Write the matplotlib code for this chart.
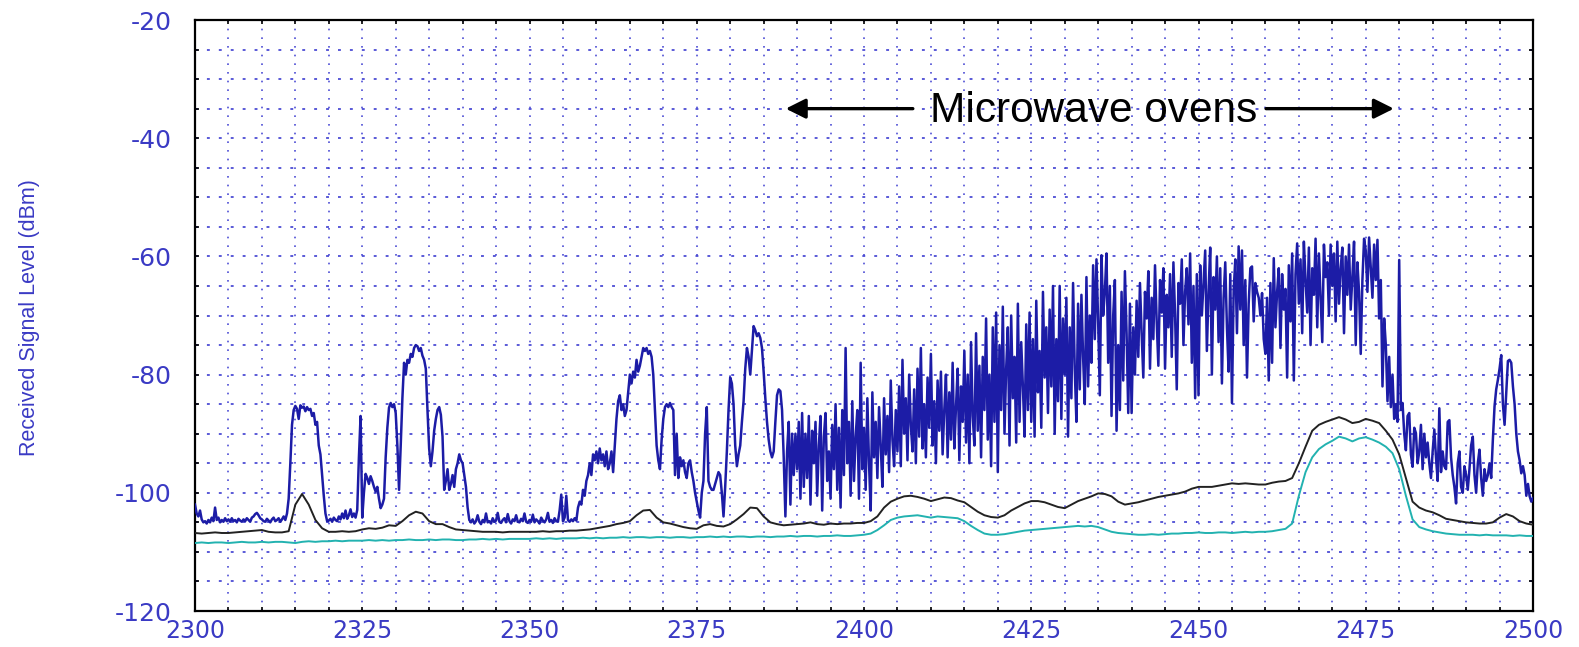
import numpy as np
import matplotlib
matplotlib.use("Agg")
import matplotlib.pyplot as plt
from matplotlib.ticker import MultipleLocator, FixedLocator, FixedFormatter

# ---------------- data ----------------
x_ticks = [2300, 2325, 2350, 2375, 2400, 2425, 2450, 2475, 2500]
x_tick_labels = ["2300", "2325", "2350", "2375", "2400", "2425", "2450", "2475", "2500"]
y_ticks = [-120, -100, -80, -60, -40, -20]
y_tick_labels = ["-120", "-100", "-80", "-60", "-40", "-20"]

ylabel_text = "Received Signal Level (dBm)"
annot_text = "Microwave ovens"

# blue trace: 0.25 MHz steps, 2300 .. 2500 MHz (each row = 5 MHz)
blue_dbm = [
    -102.0, -103.5, -104.0, -103.0, -104.5, -105.0, -104.8, -105.2, -104.6, -105.0, -104.2, -104.8, -102.5, -104.6, -104.2, -105.0, -104.6, -104.9, -104.3, -104.8,
    -104.5, -104.9, -104.3, -104.8, -104.6, -105.0, -104.4, -104.7, -104.9, -104.5, -104.8, -104.3, -104.6, -104.9, -104.2, -104.0, -103.6, -103.4, -103.8, -104.3,
    -104.5, -104.8, -104.9, -104.4, -104.7, -105.0, -104.5, -104.2, -104.8, -104.6, -104.3, -104.9, -104.5, -104.0, -104.6, -103.5, -101.0, -95.0, -88.5, -86.0,
    -85.3, -85.8, -87.5, -85.2, -85.6, -85.4, -86.2, -85.5, -86.0, -85.8, -87.0, -86.5, -88.5, -88.0, -92.0, -93.5, -97.0, -100.5, -103.5, -104.8,
    -104.7, -104.4, -104.9, -104.2, -104.6, -104.8, -104.0, -104.5, -103.5, -104.3, -103.0, -104.4, -103.8, -102.8, -104.1, -103.5, -104.2, -102.9, -94.0, -87.0,
    -104.2, -100.0, -96.8, -97.5, -98.5, -97.2, -98.0, -99.0, -99.8, -99.0, -101.0, -102.6, -102.0, -101.0, -94.0, -89.0, -85.6, -84.8, -85.5, -85.0,
    -86.5, -92.0, -99.5, -92.0, -84.0, -78.0, -80.0, -77.5, -78.0, -76.5, -77.0, -75.5, -75.0, -75.2, -76.0, -75.5, -76.8, -77.5, -79.0, -86.0,
    -92.5, -95.5, -93.0, -89.5, -87.5, -86.0, -85.5, -86.8, -90.5, -99.5, -98.0, -96.0, -99.5, -98.5, -97.0, -99.0, -96.0, -95.0, -93.5, -94.5,
    -95.0, -97.0, -99.0, -102.5, -104.6, -105.0, -104.5, -105.2, -104.8, -103.8, -104.9, -105.3, -104.6, -105.0, -103.5, -105.0, -104.8, -105.2, -104.3, -104.9,
    -104.7, -103.4, -104.9, -105.1, -104.6, -104.3, -105.0, -103.6, -104.8, -105.2, -104.5, -104.8, -103.8, -104.9, -105.0, -104.4, -104.8, -103.5, -104.9, -105.1,
    -104.6, -104.9, -103.7, -105.0, -104.5, -104.8, -105.2, -104.2, -104.7, -105.0, -104.5, -103.4, -104.9, -104.6, -105.1, -104.3, -104.8, -104.9, -103.0, -100.3,
    -104.8, -104.2, -100.5, -104.6, -104.9, -104.5, -104.8, -104.3, -104.7, -102.5, -101.5, -102.0, -99.5, -100.5, -98.0, -97.0, -95.0, -97.0, -93.5, -94.5,
    -93.0, -95.0, -92.5, -94.5, -93.5, -95.5, -93.0, -96.0, -95.0, -93.0, -96.5, -92.0, -87.5, -84.5, -83.5, -86.0, -85.0, -87.0, -86.0, -83.0,
    -80.0, -81.5, -79.5, -80.5, -77.5, -79.5, -78.5, -77.0, -75.5, -76.0, -75.5, -76.5, -76.0, -77.0, -80.0, -86.0, -92.0, -94.5, -96.0, -91.0,
    -87.5, -85.5, -85.0, -85.5, -84.8, -85.5, -86.0, -97.0, -90.0, -97.5, -94.0, -95.5, -94.5, -96.5, -97.5, -95.0, -94.5, -96.5, -98.0, -100.0,
    -101.5, -103.0, -104.2, -100.0, -98.0, -90.0, -85.5, -98.0, -99.0, -99.5, -99.5, -98.5, -97.5, -96.5, -97.0, -100.0, -104.0, -99.0, -93.0, -86.0,
    -80.5, -81.5, -85.0, -92.0, -95.5, -93.5, -92.0, -88.0, -84.5, -79.0, -75.5, -77.0, -80.0, -76.0, -71.8, -72.5, -73.5, -73.0, -73.8, -75.5,
    -79.5, -84.0, -88.0, -91.0, -93.0, -94.0, -93.0, -88.0, -83.5, -82.5, -82.8, -86.0, -94.0, -104.0, -93.0, -88.0, -102.0, -90.0, -97.0, -90.0,
    -96.0, -88.0, -101.0, -86.5, -99.0, -90.0, -97.5, -87.0, -102.0, -89.5, -95.0, -88.0, -100.5, -92.0, -87.0, -103.0, -90.5, -86.5, -98.0, -93.0,
    -101.0, -88.5, -96.0, -85.0, -99.5, -89.0, -102.5, -86.0, -97.0, -75.5, -95.0, -88.0, -100.5, -84.5, -98.0, -90.5, -86.0, -101.0, -78.0, -96.0,
    -89.0, -99.5, -84.0, -95.0, -103.0, -83.0, -94.0, -88.0, -97.5, -85.5, -92.0, -99.0, -84.0, -93.5, -87.0, -96.5, -81.0, -91.0, -95.5, -86.0,
    -93.0, -82.0, -95.5, -77.5, -90.0, -84.0, -94.5, -80.0, -88.5, -93.0, -82.5, -95.0, -79.0, -90.5, -75.5, -92.5, -85.0, -94.0, -80.5, -89.0,
    -76.5, -92.0, -84.5, -95.0, -81.0, -89.5, -79.5, -93.5, -86.0, -80.0, -94.0, -83.0, -91.0, -78.0, -92.5, -85.5, -79.0, -94.5, -82.0, -88.0,
    -76.0, -91.5, -80.0, -95.0, -74.5, -87.0, -92.0, -73.0, -89.5, -78.5, -94.0, -77.0, -86.0, -70.5, -91.0, -80.0, -95.5, -72.0, -88.0, -69.5,
    -96.5, -75.0, -86.0, -68.5, -90.0, -79.0, -72.0, -92.0, -70.0, -84.0, -77.0, -91.5, -68.0, -88.0, -74.5, -82.0, -90.5, -71.5, -86.0, -69.5,
    -88.0, -74.0, -90.5, -67.5, -83.0, -76.0, -89.0, -66.0, -80.5, -72.0, -86.5, -69.0, -82.0, -65.0, -90.0, -74.0, -84.5, -65.0, -87.5, -70.5,
    -80.0, -67.0, -90.5, -72.0, -84.0, -64.5, -79.0, -88.0, -68.0, -82.5, -66.5, -77.0, -85.0, -63.5, -82.0, -70.0, -78.0, -61.5, -74.0, -60.5,
    -71.0, -83.5, -59.8, -70.0, -66.0, -59.5, -78.0, -65.0, -87.0, -70.0, -64.0, -89.5, -75.0, -86.0, -66.0, -81.0, -62.5, -73.0, -86.5, -68.0,
    -86.5, -72.0, -80.0, -67.5, -77.0, -64.5, -73.0, -80.5, -66.0, -70.5, -62.5, -79.0, -67.0, -74.0, -61.5, -71.0, -78.5, -64.0, -69.5, -62.0,
    -79.0, -66.5, -72.0, -63.0, -77.0, -61.0, -70.0, -82.5, -64.5, -68.0, -60.5, -75.0, -66.0, -62.0, -71.5, -59.5, -78.0, -65.0, -84.0, -63.0,
    -83.5, -61.5, -70.0, -64.5, -59.0, -76.0, -66.0, -58.5, -80.0, -63.5, -69.0, -60.0, -74.5, -62.0, -81.5, -67.0, -61.0, -72.0, -79.5, -63.0,
    -84.8, -66.0, -60.5, -73.0, -58.3, -69.0, -59.0, -75.0, -64.0, -80.5, -68.0, -62.0, -61.7, -71.0, -64.5, -66.0, -67.0, -70.0, -66.2, -74.0,
    -76.5, -67.0, -81.0, -64.5, -78.0, -60.3, -72.0, -66.0, -62.0, -75.5, -63.0, -69.0, -65.5, -80.5, -61.5, -71.0, -59.5, -81.0, -63.0, -57.8,
    -68.0, -60.5, -73.0, -57.5, -64.0, -69.5, -58.5, -75.0, -62.0, -66.5, -57.0, -72.0, -59.5, -67.0, -74.5, -58.0, -63.5, -61.0, -70.0, -58.0,
    -65.0, -59.5, -71.0, -57.5, -68.0, -62.0, -58.5, -73.0, -60.0, -66.5, -58.0, -69.0, -63.5, -57.5, -75.0, -61.0, -66.0, -76.5, -64.0, -57.0,
    -59.0, -66.0, -56.8, -62.0, -67.0, -58.0, -64.0, -57.2, -70.5, -64.0, -82.0, -70.5, -75.0, -84.5, -77.0, -85.5, -80.0, -87.5, -85.0, -88.0,
    -60.6, -86.0, -84.8, -90.0, -92.8, -87.0, -86.5, -93.5, -95.6, -89.0, -89.9, -95.0, -93.0, -88.5, -96.0, -90.0, -94.0, -91.5, -95.0, -97.5,
    -93.0, -89.3, -94.0, -98.0, -85.7, -96.5, -93.0, -95.5, -96.0, -88.0, -87.7, -94.0, -97.0, -99.0, -101.8, -95.0, -93.0, -99.0, -100.0, -95.5,
    -97.0, -99.5, -96.0, -92.0, -90.5, -97.0, -100.0, -95.0, -92.7, -97.5, -100.5, -96.0, -98.0, -97.0, -95.0, -97.5, -91.0, -85.4, -82.5, -80.9,
    -79.0, -76.7, -85.0, -88.5, -83.0, -77.7, -77.5, -78.0, -82.0, -85.0, -90.0, -93.0, -94.5, -96.7, -95.5, -97.0, -100.5, -98.5, -100.6, -101.5,
    -100.9,
]

# black trace: 1 MHz steps, 2300 .. 2500 MHz (each row = 10 MHz)
black_dbm = [
    -106.8, -106.9, -106.8, -106.7, -106.8, -106.8, -106.7, -106.6, -106.5, -106.4,
    -106.3, -106.6, -106.7, -106.7, -106.5, -102.0, -100.2, -102.0, -104.6, -106.0,
    -106.6, -106.6, -106.5, -106.6, -106.5, -106.2, -106.0, -106.1, -105.9, -105.5,
    -105.6, -104.8, -103.8, -103.2, -103.5, -104.8, -105.3, -105.3, -105.8, -106.2,
    -106.3, -106.4, -106.5, -106.6, -106.6, -106.6, -106.7, -106.6, -106.6, -106.6,
    -106.6, -106.6, -106.5, -106.6, -106.5, -106.5, -106.4, -106.4, -106.3, -106.2,
    -106.0, -105.8, -105.6, -105.3, -105.1, -104.8, -103.8, -103.0, -102.9, -104.2,
    -105.0, -105.2, -105.5, -105.8, -106.0, -106.1, -105.5, -105.3, -105.6, -105.7,
    -105.3, -104.5, -103.6, -102.5, -102.6, -104.0, -105.0, -105.3, -105.5, -105.4,
    -105.3, -105.2, -105.0, -105.3, -105.4, -105.2, -105.3, -105.2, -105.2, -105.1,
    -105.1, -104.8, -104.0, -102.5, -101.5, -101.0, -100.6, -100.5, -100.7, -101.0,
    -101.4, -101.1, -100.8, -100.9, -101.3, -101.6, -102.4, -103.2, -103.8, -104.1,
    -104.2, -103.8, -103.0, -102.4, -101.8, -101.4, -101.4, -101.6, -102.0, -102.4,
    -102.6, -102.0, -101.4, -101.0, -100.6, -100.1, -100.2, -100.6, -101.5, -102.0,
    -101.8, -101.6, -101.3, -101.0, -100.7, -100.5, -100.3, -100.1, -99.8, -99.3,
    -99.0, -99.0, -99.0, -98.8, -98.6, -98.4, -98.5, -98.4, -98.5, -98.6,
    -98.6, -98.3, -98.1, -98.0, -97.5, -95.0, -92.2, -89.5, -88.5, -88.0,
    -87.6, -87.2, -87.6, -88.2, -88.0, -87.5, -87.8, -88.2, -89.5, -91.0,
    -93.5, -97.5, -101.5, -102.5, -103.0, -103.3, -103.8, -104.4, -104.6, -104.8,
    -105.0, -105.1, -105.2, -105.2, -105.0, -104.2, -103.6, -104.0, -104.8, -105.2,
    -105.4,
]

# cyan trace: 1 MHz steps, 2300 .. 2500 MHz (each row = 10 MHz)
cyan_dbm = [
    -108.5, -108.4, -108.5, -108.4, -108.4, -108.5, -108.4, -108.3, -108.4, -108.4,
    -108.3, -108.4, -108.3, -108.3, -108.4, -108.5, -108.3, -108.2, -108.3, -108.2,
    -108.2, -108.1, -108.2, -108.1, -108.1, -108.1, -108.0, -108.1, -108.0, -108.1,
    -108.0, -108.0, -107.9, -108.0, -108.0, -107.9, -108.0, -107.9, -107.9, -108.0,
    -108.0, -107.9, -107.9, -107.8, -107.9, -107.8, -107.9, -107.8, -107.8, -107.8,
    -107.8, -107.7, -107.8, -107.7, -107.8, -107.7, -107.7, -107.7, -107.6, -107.7,
    -107.6, -107.7, -107.6, -107.6, -107.5, -107.6, -107.5, -107.5, -107.6, -107.5,
    -107.5, -107.6, -107.5, -107.5, -107.6, -107.5, -107.5, -107.4, -107.5, -107.4,
    -107.5, -107.4, -107.4, -107.5, -107.4, -107.4, -107.5, -107.4, -107.4, -107.3,
    -107.4, -107.3, -107.3, -107.4, -107.3, -107.3, -107.2, -107.3, -107.3, -107.2,
    -107.1, -106.9, -106.3, -105.5, -104.6, -104.2, -104.0, -103.9, -103.8, -104.0,
    -104.2, -104.0, -104.1, -104.2, -104.3, -104.8, -105.6, -106.3, -106.9, -107.1,
    -107.1, -107.0, -106.8, -106.6, -106.4, -106.3, -106.2, -106.1, -106.0, -105.9,
    -105.8, -105.7, -105.6, -105.7, -105.6, -105.8, -106.2, -106.6, -106.8, -106.9,
    -107.0, -107.1, -107.1, -107.0, -107.1, -107.0, -106.9, -106.9, -106.8, -106.8,
    -106.7, -106.8, -106.8, -106.7, -106.7, -106.8, -106.7, -106.6, -106.7, -106.6,
    -106.6, -106.5, -106.3, -106.1, -105.2, -100.5, -96.5, -94.0, -92.6, -91.8,
    -91.2, -90.5, -90.8, -91.3, -90.8, -90.6, -91.0, -91.5, -92.2, -93.3,
    -96.0, -100.5, -104.5, -105.8, -106.2, -106.5, -106.7, -106.9, -107.0, -107.1,
    -107.1, -107.1, -107.2, -107.1, -107.2, -107.2, -107.2, -107.3, -107.2, -107.3,
    -107.3,
]

freq_blue = np.linspace(2300, 2500, len(blue_dbm))
freq_black = np.linspace(2300, 2500, len(black_dbm))
freq_cyan = np.linspace(2300, 2500, len(cyan_dbm))

# ---------------- figure ----------------
W, H = 1579, 647
fig = plt.figure(figsize=(W / 100, H / 100), dpi=100)
fig.patch.set_facecolor("white")

ax_l, ax_r, ax_t, ax_b = 195, 1533, 20, 611
ax = fig.add_axes([ax_l / W, 1 - ax_b / H, (ax_r - ax_l) / W, (ax_b - ax_t) / H])

tick_blue = "#3a3ac4"
grid_blue = "#3a3ad0"

ax.plot(freq_cyan, cyan_dbm, color="#22b2b0", lw=1.4, zorder=3)
ax.plot(freq_black, black_dbm, color="#222222", lw=1.4, zorder=3)
ax.plot(freq_blue, blue_dbm, color="#1c1ca6", lw=1.8, zorder=4)

ax.set_xlim(2300, 2500)
ax.set_ylim(-120, -20)

ax.xaxis.set_major_locator(FixedLocator(x_ticks))
ax.xaxis.set_major_formatter(FixedFormatter(x_tick_labels))
ax.yaxis.set_major_locator(FixedLocator(y_ticks))
ax.yaxis.set_major_formatter(FixedFormatter(y_tick_labels))
ax.xaxis.set_minor_locator(MultipleLocator(5))
ax.yaxis.set_minor_locator(MultipleLocator(5))

ax.xaxis.grid(True, which="both", color=grid_blue, linestyle=(0, (1, 4.2)), lw=1.2, alpha=0.9)
ax.yaxis.grid(True, which="both", color=grid_blue, linestyle=(0, (1.6, 5.0)), lw=1.3, alpha=0.9)
ax.set_axisbelow(True)

ax.tick_params(which="both", direction="in", top=True, right=True, color="black",
               length=3, width=1.2)
ax.tick_params(axis="y", which="major", pad=17, labelsize=18, labelcolor=tick_blue)
ax.tick_params(axis="x", which="major", pad=5.5, labelsize=17, labelcolor=tick_blue)
for lab in ax.get_xticklabels() + ax.get_yticklabels():
    lab.set_family("DejaVu Sans")

for s in ax.spines.values():
    s.set_color("black")
    s.set_linewidth(1.6)

fig.text(30 / W, 1 - 318 / H, ylabel_text, rotation=90, ha="center", va="center",
         color=tick_blue, fontsize=15.5, family=["Liberation Sans", "DejaVu Sans"])

# annotation with arrows
ax.text(2434.35, -37.3, annot_text, ha="center", va="baseline", fontsize=30.5,
        color="black", family=["Liberation Sans", "DejaVu Sans"], zorder=6)
arrow_kw = dict(arrowstyle="-|>,head_length=0.6,head_width=0.3", color="black",
                lw=2.4, mutation_scale=20, shrinkA=0, shrinkB=0)
ax.annotate("", xy=(2388.3, -35.0), xytext=(2407.3, -35.0), arrowprops=arrow_kw, zorder=6)
ax.annotate("", xy=(2479.2, -35.0), xytext=(2460.1, -35.0), arrowprops=arrow_kw, zorder=6)

fig.savefig("out.png", dpi=100, facecolor="white")
